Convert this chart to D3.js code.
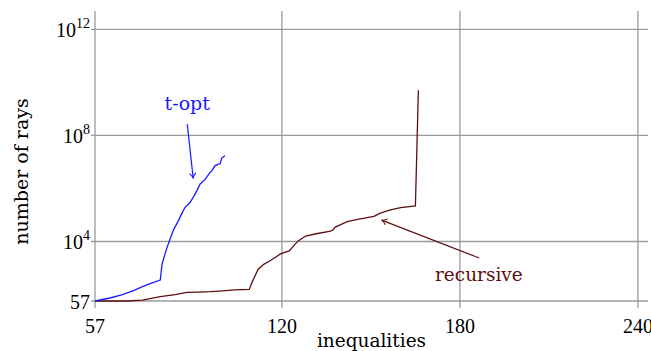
<!DOCTYPE html>
<html>
<head>
<meta charset="utf-8">
<script src="https://cdn.jsdelivr.net/npm/d3@7"></script>
<style>
	body { margin: 0; background: #fff; }
	svg { display: block; }
</style>
</head>
<body>
<div id="chart"><svg></svg></div>
<script>
// number of inequalities vs number of rays
var topt_x = [57, 62, 66, 70, 73, 76, 79, 79.6, 80.6, 81.5, 82.3, 83.5, 85.1, 86.2, 87.3, 89, 90.2, 91.3, 92.4, 93.2, 94.1, 95.8, 96.5, 97.4, 98.6, 99.2, 99.7, 100.8];
var topt_y = [57, 74, 97, 140, 200, 270, 350, 1400, 3400, 7000, 12300, 28000, 60000, 110000, 190000, 295000, 480000, 810000, 1450000, 1750000, 2200000, 4000000, 4800000, 7100000, 8200000, 8500000, 13800000, 17000000];

var rec_x = [57, 62, 68, 73, 79, 84, 88, 92, 96, 100, 104, 109, 110, 111, 112, 114, 116, 118, 119.5, 122.5, 124, 125.5, 128, 132, 136, 137, 138, 142, 146, 151, 153, 155.5, 157, 160, 165, 166];
var rec_y = [57, 57, 57, 62, 83, 100, 120, 124, 128, 138, 150, 156, 300, 520, 900, 1400, 1870, 2600, 3400, 4400, 7000, 10500, 16000, 20000, 24000, 26000, 35000, 56000, 70000, 88000, 115000, 143000, 160000, 190000, 220000, 5000000000];

var x_ticks = [57, 120, 180, 240];
var y_ticks = [57, 1e4, 1e8, 1e12];
var y_tick_base = ["57", "10", "10", "10"];
var y_tick_exp = ["", "4", "8", "12"];

var width = 651, height = 351;
var svg = d3.select("#chart").select("svg")
	.attr("width", width)
	.attr("height", height);

var x = d3.scaleLinear()
	.domain([57, 243.4])
	.range([95, 648]);
var y = d3.scaleLog()
	.domain([57, 4.9e12])
	.range([301, 11]);

var grid_col = "#9a9a9a";
var blue = "#1a1aff";
var maroon = "#5e0e0e";
var word_font = "DejaVu Serif";
var num_font = "Liberation Serif";

// grid
svg.selectAll(".vgrid")
	.data(x_ticks)
	.enter()
	.append("line")
	.attr("class", "vgrid")
	.attr("x1", function(d) { return x(d); })
	.attr("x2", function(d) { return x(d); })
	.attr("y1", y.range()[1])
	.attr("y2", y.range()[0] + 7)
	.style("stroke", grid_col)
	.style("stroke-width", 1.3);

svg.selectAll(".hgrid")
	.data(y_ticks)
	.enter()
	.append("line")
	.attr("class", "hgrid")
	.attr("x1", x.range()[0] - 4)
	.attr("x2", x.range()[1])
	.attr("y1", function(d) { return y(d); })
	.attr("y2", function(d) { return y(d); })
	.style("stroke", grid_col)
	.style("stroke-width", 1.3);

// tick labels
svg.selectAll(".xlab")
	.data(x_ticks)
	.enter()
	.append("text")
	.attr("class", "xlab")
	.attr("x", function(d) { return x(d); })
	.attr("y", 333)
	.style("text-anchor", "middle")
	.style("font-family", num_font)
	.style("font-size", "20px")
	.text(function(d) { return d; });

var ylab = svg.selectAll(".ylab")
	.data(y_ticks)
	.enter()
	.append("text")
	.attr("class", "ylab")
	.attr("x", 90)
	.attr("y", function(d) { return y(d) + 8; })
	.style("text-anchor", "end")
	.style("font-family", num_font)
	.style("font-size", "20px");
ylab.append("tspan")
	.text(function(d, i) { return y_tick_base[i]; });
ylab.append("tspan")
	.attr("dy", -9)
	.style("font-size", "14px")
	.text(function(d, i) { return y_tick_exp[i]; });

// axis titles
svg.append("text")
	.attr("x", (x.range()[0] + x.range()[1]) / 2)
	.attr("y", 347)
	.style("text-anchor", "middle")
	.style("font-family", word_font)
	.style("font-size", "18.5px")
	.text("inequalities");

svg.append("text")
	.attr("transform", "translate(28," + 171.5 + ") rotate(-90)")
	.style("text-anchor", "middle")
	.style("font-family", word_font)
	.style("font-size", "19px")
	.text("number of rays");

// series
var line = d3.line()
	.x(function(d) { return x(d[0]); })
	.y(function(d) { return y(d[1]); });

svg.append("path")
	.datum(d3.zip(rec_x, rec_y))
	.attr("d", line)
	.style("fill", "none")
	.style("stroke", maroon)
	.style("stroke-width", 1.3);

svg.append("path")
	.datum(d3.zip(topt_x, topt_y))
	.attr("d", line)
	.style("fill", "none")
	.style("stroke", blue)
	.style("stroke-width", 1.3);

// annotations
function arrow(from, to, col)
{
	var x1 = x(from[0]), y1 = y(from[1]);
	var x2 = x(to[0]), y2 = y(to[1]);
	svg.append("line")
		.attr("x1", x1)
		.attr("y1", y1)
		.attr("x2", x2)
		.attr("y2", y2)
		.style("stroke", col)
		.style("stroke-width", 1.2);
	var a = Math.atan2(y2 - y1, x2 - x1);
	var len = 6, spread = 0.55;
	var p1 = [x2 - len * Math.cos(a - spread), y2 - len * Math.sin(a - spread)];
	var p2 = [x2 - len * Math.cos(a + spread), y2 - len * Math.sin(a + spread)];
	svg.append("path")
		.attr("d", "M" + p1 + "Q" + (x2 - 2 * Math.cos(a)) + "," + (y2 - 2 * Math.sin(a)) + " " + x2 + "," + y2
			+ "Q" + (x2 - 2 * Math.cos(a)) + "," + (y2 - 2 * Math.sin(a)) + " " + p2)
		.style("fill", "none")
		.style("stroke", col)
		.style("stroke-width", 1.1);
}

arrow([88.1, 2.65e8], [90.1, 2.4e6], blue);
arrow([186.5, 2380], [153.6, 64000], maroon);

svg.append("text")
	.attr("x", x(88.1))
	.attr("y", y(9.1e8))
	.style("text-anchor", "middle")
	.style("font-family", word_font)
	.style("font-size", "19px")
	.style("fill", blue)
	.text("t-opt");

svg.append("text")
	.attr("x", x(186.4))
	.attr("y", y(330))
	.style("text-anchor", "middle")
	.style("font-family", word_font)
	.style("font-size", "18.5px")
	.style("fill", maroon)
	.text("recursive");
</script>
</body>
</html>
